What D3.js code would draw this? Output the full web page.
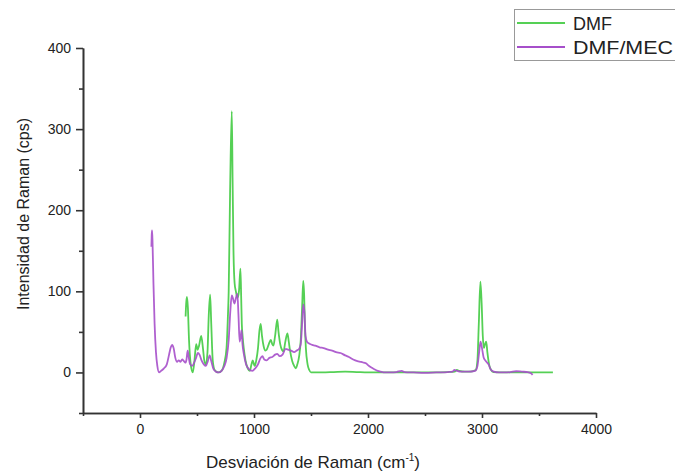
<html>
<head>
  <meta charset="utf-8">
  <title>Raman DMF</title>
  <script src="https://cdnjs.cloudflare.com/ajax/libs/d3/7.8.5/d3.min.js"></script>
  <style>
    body { margin: 0; background: #fff; }
    text { font-family: "Liberation Sans", Arial, sans-serif; }
  </style>
</head>
<body>
  <div id="viz"></div>
  <script type="text/javascript">
    // Raman shift (cm-1) and intensity (cps)
    var dmfShift = [400, 405, 412, 420, 430, 445, 463, 478, 493, 505, 518, 537, 552, 565, 578, 592, 603, 615, 625, 638,
      655, 685, 715, 740, 759, 770, 778, 790, 805, 812, 820, 830, 841, 855, 868, 881, 888, 893, 900, 910,
      925, 945, 963, 978, 989, 1000, 1007, 1020, 1035, 1048, 1059, 1070, 1085, 1100, 1111, 1130, 1148, 1160, 1170, 1185,
      1204, 1215, 1230, 1245, 1259, 1275, 1293, 1305, 1315, 1335, 1352, 1367, 1380, 1396, 1410, 1422, 1432, 1440, 1446, 1455,
      1470, 1485, 1500, 1600, 1700, 1800, 1900, 2000, 2200, 2400, 2600, 2700, 2760, 2780, 2800, 2850, 2900, 2945, 2960, 2972,
      2986, 2997, 3007, 3017, 3027, 3037, 3047, 3062, 3080, 3100, 3200, 3400, 3622];
    var dmfValue = [69, 85, 93, 80, 40, 10, 0, 15, 35, 28, 33, 45, 30, 14, 10, 25, 70, 96, 60, 15,
      3, 0, 2, 12, 30, 65, 100, 220, 322, 240, 150, 110, 100, 92, 100, 128, 90, 60, 45, 30,
      15, 5, 2, 10, 15, 10, 8, 15, 30, 52, 60, 45, 32, 27, 28, 35, 40, 35, 33, 45,
      65, 50, 35, 28, 26, 38, 48, 38, 28, 14, 8, 5, 10, 20, 40, 80, 113, 95, 60, 30,
      10, 3, 0, 0, 0.5, 1, 0.5, 0, 0, 0, 0, 0.5, 1, 3, 2, 1, 1, 3, 15, 60,
      112, 85, 45, 30, 35, 38, 25, 10, 3, 0.5, 0, 0, 0];

    var mecShift = [100, 103, 106, 110, 118, 128, 140, 152, 167, 185, 210, 235, 255, 270, 282, 295, 310, 325, 340, 355,
      370, 385, 398, 408, 418, 426, 440, 458, 475, 492, 507, 522, 540, 560, 578, 595, 611, 625, 645, 665,
      690, 715, 740, 760, 778, 792, 805, 814, 828, 842, 854, 864, 874, 884, 891, 899, 912, 930, 955, 985,
      1010, 1035, 1055, 1074, 1090, 1111, 1135, 1160, 1185, 1204, 1225, 1250, 1278, 1300, 1325, 1352, 1375, 1395, 1410, 1420,
      1432, 1442, 1452, 1464, 1480, 1510, 1537, 1575, 1611, 1650, 1685, 1720, 1759, 1800, 1833, 1870, 1907, 1940, 1963, 1985,
      2000, 2030, 2055, 2085, 2111, 2150, 2200, 2250, 2296, 2320, 2400, 2500, 2600, 2700, 2740, 2759, 2780, 2820, 2880, 2940,
      2960, 2975, 2987, 3000, 3015, 3028, 3045, 3058, 3075, 3103, 3150, 3200, 3250, 3300, 3350, 3400, 3430, 3444];
    var mecValue = [155, 170, 175, 160, 110, 60, 25, 8, 0, 2, 5, 10, 22, 31, 34, 30, 18, 13, 15, 13,
      16, 14, 12, 16, 27, 20, 10, 8, 12, 18, 24, 22, 15, 10, 8, 14, 21, 14, 4, 1,
      0, 2, 8, 18, 40, 75, 95, 92, 85, 92, 97, 70, 38, 45, 52, 35, 22, 10, 4, 2,
      5, 10, 17, 20, 16, 15, 18, 19, 22, 23, 20, 22, 29, 28, 27, 25, 27, 29, 35, 55,
      84, 75, 45, 38, 36, 34, 33, 31, 30, 28, 27, 25, 24, 21, 19, 16, 14, 13, 12, 11,
      9, 6, 4, 2, 1, 0, 0, 0.5, 2, 0.5, 0, -0.5, 0, 0.5, 1, 3, 2, 1, 1, 2,
      8, 25, 38, 30, 18, 15, 12, 10, 4, 1, 0, 0, 0.5, 1.5, 1, 0.5, -1, -3];

    var seriesNames = ["DMF", "DMF/MEC"];
    var seriesColors = ["#55d055", "#a64fca"];

    var xMajor = [0, 1000, 2000, 3000, 4000],
        xMinor = [-500, 500, 1500, 2500, 3500],
        yMajor = [0, 100, 200, 300, 400],
        yMinor = [-50, 50, 150, 250, 350];

    var width = 675,
        height = 475;

    var svg = d3.select("#viz")
        .append("svg")
        .attr("width", width)
        .attr("height", height);

    svg.append("rect").attr("width", width).attr("height", height).attr("fill", "#fff");

    var x = d3.scaleLinear().domain([-500, 4000]).range([83, 596]);
    var y = d3.scaleLinear().domain([-50, 400]).range([413, 48]);

    // minor ticks first, then major axes on top
    svg.append("g")
        .attr("transform", "translate(0," + y(-50) + ")")
        .call(d3.axisBottom(x).tickValues(xMinor).tickSize(3).tickSizeOuter(0).tickFormat(""));
    svg.append("g")
        .attr("transform", "translate(" + x(-500) + ",0)")
        .call(d3.axisLeft(y).tickValues(yMinor).tickSize(4).tickSizeOuter(0).tickFormat(""));

    svg.append("g")
        .attr("transform", "translate(0," + y(-50) + ")")
        .call(d3.axisBottom(x).tickValues(xMajor).tickSize(5).tickSizeOuter(0).tickPadding(6).tickFormat(d3.format("d")));
    svg.append("g")
        .attr("transform", "translate(" + x(-500) + ",0)")
        .call(d3.axisLeft(y).tickValues(yMajor).tickSize(7).tickSizeOuter(0).tickPadding(5).tickFormat(d3.format("d")));

    svg.selectAll(".domain, .tick line")
        .attr("stroke", "#333")
        .attr("stroke-width", 1.6);
    svg.selectAll(".tick text")
        .attr("fill", "#222")
        .style("font-size", "14px")
        .style("font-family", "'Liberation Sans', Arial, sans-serif");

    // spectra
    var line = d3.line()
        .x(function (d) { return x(d[0]); })
        .y(function (d) { return y(d[1]); })
        .curve(d3.curveMonotoneX);

    var dmf = d3.zip(dmfShift, dmfValue),
        mec = d3.zip(mecShift, mecValue);

    svg.append("path")
        .datum(dmf)
        .attr("fill", "none")
        .attr("stroke", seriesColors[0])
        .attr("stroke-width", 1.8)
        .attr("d", line);

    svg.append("path")
        .datum(mec)
        .attr("fill", "none")
        .attr("stroke", seriesColors[1])
        .attr("stroke-opacity", 0.9)
        .attr("stroke-width", 1.8)
        .attr("d", line);

    // axis titles
    var xTitle = svg.append("text")
        .attr("x", 313)
        .attr("y", 468)
        .attr("text-anchor", "middle")
        .style("font-size", "17px")
        .attr("fill", "#222");
    xTitle.append("tspan").text("Desviación de Raman (cm");
    xTitle.append("tspan").attr("dy", -7).style("font-size", "10px").text("-1");
    xTitle.append("tspan").attr("dy", 7).text(")");

    svg.append("text")
        .attr("transform", "translate(29,214) rotate(-90)")
        .attr("text-anchor", "middle")
        .style("font-size", "16px")
        .attr("fill", "#222")
        .text("Intensidad de Raman (cps)");

    // legend box, runs off the right edge like the original
    svg.append("rect")
        .attr("x", 514.5)
        .attr("y", 9.5)
        .attr("width", 200)
        .attr("height", 51)
        .attr("fill", "#fff")
        .attr("stroke", "#999");

    var legend = svg.selectAll(".legend")
        .data(seriesNames)
        .enter()
        .append("g")
        .attr("class", "legend")
        .attr("transform", function (d, i) { return "translate(0," + (23 + i * 24) + ")"; });

    legend.append("line")
        .attr("x1", 517)
        .attr("x2", 565)
        .attr("stroke", function (d, i) { return seriesColors[i]; })
        .attr("stroke-width", 1.8);

    legend.append("text")
        .attr("x", 573)
        .attr("y", 7)
        .style("font-size", "18px")
        .attr("fill", "#222")
        .attr("textLength", function (d, i) { return i === 1 ? 100 : null; })
        .attr("lengthAdjust", "spacingAndGlyphs")
        .text(function (d) { return d; });
  </script>
</body>
</html>
